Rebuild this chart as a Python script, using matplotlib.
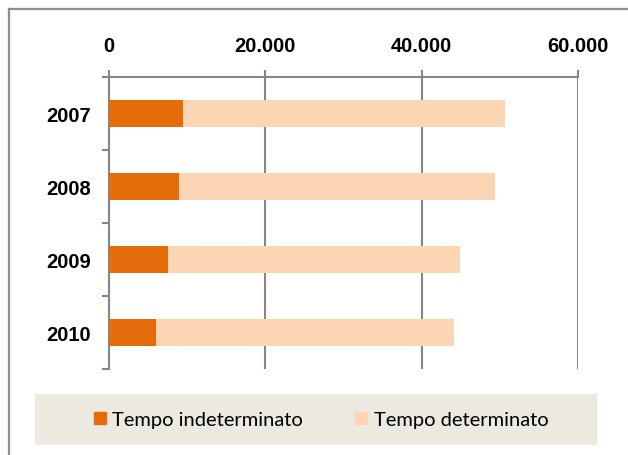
import matplotlib
matplotlib.use("Agg")
import matplotlib.pyplot as plt
from matplotlib.patches import Rectangle
from matplotlib.lines import Line2D
import numpy as np

years = ["2007", "2008", "2009", "2010"]
indeterminato = [9500, 8950, 7500, 5950]
determinato = [41200, 40400, 37350, 38250]
series_names = ["Tempo indeterminato", "Tempo determinato"]
xticks = [0, 20000, 40000, 60000]
xtick_labels = ["0", "20.000", "40.000", "60.000"]

c_ind = "#E46C0A"
c_det = "#FCD5B5"
gray = "#868686"

W, H = 628, 456
fig = plt.figure(figsize=(W / 100, H / 100), dpi=100)
fig.patch.set_facecolor("white")

# outer frame (left + top lines)
fig.add_artist(Line2D([9 / W, 9 / W], [0, 1 - 10 / H], color="#8f8f8f", lw=1.6, transform=fig.transFigure))
fig.add_artist(Line2D([9 / W, 1], [1 - 10 / H, 1 - 10 / H], color="#8f8f8f", lw=1.6, transform=fig.transFigure))

ax = fig.add_axes([109 / W, 1 - 370 / H, (578 - 109) / W, (370 - 78) / H])
y = np.arange(len(years))
bh = 0.375
ax.barh(y, indeterminato, height=bh, color=c_ind, label=series_names[0], zorder=3)
ax.barh(y, determinato, left=indeterminato, height=bh, color=c_det, label=series_names[1], zorder=3)

ax.set_xlim(0, 60000)
ax.set_ylim(len(years) - 0.5, -0.5)
ax.xaxis.tick_top()
ax.set_xticks(xticks)
ax.set_xticklabels(xtick_labels, fontfamily="Liberation Sans", fontweight="bold", fontsize=14.5)
ax.tick_params(axis="x", direction="out", length=5, width=1.5, color=gray, pad=10.5)
ax.set_yticks(y)
ax.set_yticklabels(years, fontfamily="Liberation Sans", fontweight="bold", fontsize=14.5)
ax.tick_params(axis="y", which="major", length=0, pad=13)
ax.set_yticks(np.arange(-0.5, len(years)), minor=True)
ax.tick_params(axis="y", which="minor", direction="out", length=5, width=1.5, color=gray)

ax.grid(axis="x", color=gray, lw=1.5, zorder=0)
for s in ["right", "bottom"]:
    ax.spines[s].set_visible(False)
for s in ["top", "left"]:
    ax.spines[s].set_color(gray)
    ax.spines[s].set_linewidth(1.5)

# legend box
fig.add_artist(Rectangle((35 / W, 1 - 446 / H), (597 - 35) / W, (446 - 395) / H,
                         transform=fig.transFigure, facecolor="#ECEAE0", edgecolor="none"))
handles = [Rectangle((0, 0), 1, 1, color=c_ind), Rectangle((0, 0), 1, 1, color=c_det)]
fig.legend(handles, series_names, loc="center", bbox_to_anchor=(321 / W, 1 - 420.5 / H),
           ncol=2, frameon=False, prop={"family": "Lato", "size": 14.5},
           handlelength=0.6, handleheight=0.6, handletextpad=0.31, columnspacing=2.6)

fig.savefig("out.png", dpi=100)
